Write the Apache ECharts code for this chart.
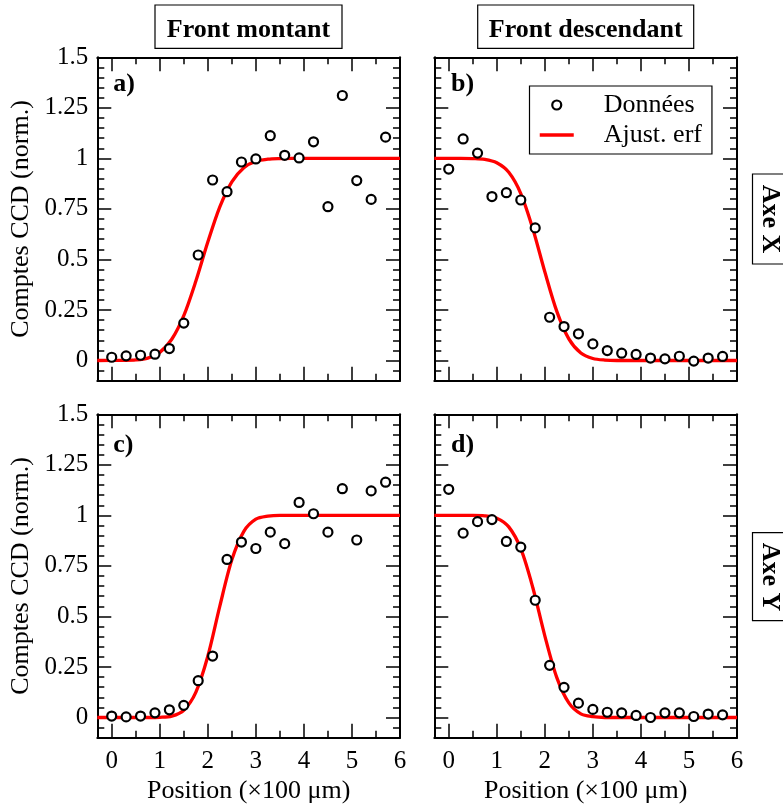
<!DOCTYPE html>
<html>
<head>
<meta charset="utf-8">
<script src="https://cdn.jsdelivr.net/npm/echarts@6/dist/echarts.min.js"></script>
<style>
  html, body { margin: 0; padding: 0; background: #fff; }
  #chart { width: 783px; height: 810px; }
</style>
</head>
<body>
<div id="chart"></div>
<script>
// ---------- DATA ----------
const positions = [0, 0.3, 0.6, 0.9, 1.2, 1.5, 1.8, 2.1, 2.4, 2.7, 3.0, 3.3, 3.6, 3.9, 4.2, 4.5, 4.8, 5.1, 5.4, 5.7];

const dataA = [0.016, 0.023, 0.026, 0.031, 0.059, 0.185, 0.522, 0.893, 0.835, 0.982, 0.997, 1.112, 1.015, 1.002, 1.082, 0.761, 1.311, 0.890, 0.797, 1.105];
const dataB = [0.947, 1.096, 1.026, 0.811, 0.830, 0.794, 0.656, 0.214, 0.168, 0.132, 0.082, 0.049, 0.036, 0.030, 0.012, 0.008, 0.021, -0.003, 0.012, 0.020];
const dataC = [0.007, 0.003, 0.007, 0.023, 0.038, 0.060, 0.182, 0.304, 0.782, 0.868, 0.836, 0.917, 0.860, 1.064, 1.008, 0.917, 1.132, 0.878, 1.121, 1.164];
const dataD = [1.129, 0.912, 0.969, 0.979, 0.871, 0.843, 0.580, 0.258, 0.149, 0.071, 0.040, 0.026, 0.023, 0.010, 0.000, 0.023, 0.023, 0.005, 0.017, 0.013];

// fitted erf curves, read at these positions
const fitPositions = [-0.3, 0.25, 0.5, 0.75, 1, 1.25, 1.5, 1.75, 2, 2.25, 2.5, 2.75, 3, 3.25, 3.5, 3.75, 4.5, 6];
const fitA = [0, 0.001, 0.003, 0.012, 0.040, 0.105, 0.222, 0.392, 0.586, 0.760, 0.884, 0.954, 0.986, 0.996, 0.999, 1, 1, 1];
const fitB = [1, 1, 0.999, 0.995, 0.978, 0.931, 0.826, 0.652, 0.439, 0.243, 0.107, 0.037, 0.010, 0.002, 0, 0, 0, 0];
const fitC = [0, 0, 0, 0, 0.001, 0.007, 0.036, 0.124, 0.303, 0.551, 0.780, 0.921, 0.981, 0.996, 1, 1, 1, 1];
const fitD = [1, 1, 1, 0.998, 0.986, 0.943, 0.835, 0.643, 0.404, 0.197, 0.072, 0.018, 0.004, 0, 0, 0, 0, 0];

// tick labels and tick positions
const xTickLabels = [0, 1, 2, 3, 4, 5, 6];
const xMinorTicks = [0.5, 1.5, 2.5, 3.5, 4.5, 5.5];
const yTickLabels = [0, 0.25, 0.5, 0.75, 1, 1.25, 1.5];
const yMinorTicks = [-0.05, 0.05, 0.1, 0.15, 0.2, 0.3, 0.35, 0.4, 0.45, 0.55, 0.6, 0.65, 0.7, 0.8, 0.85, 0.9, 0.95, 1.05, 1.1, 1.15, 1.2, 1.3, 1.35, 1.4, 1.45];

const panelLetters = ['a)', 'b)', 'c)', 'd)'];
const columnTitles = ['Front montant', 'Front descendant'];
const rowTitles = ['Axe X', 'Axe Y'];
const xTitle = 'Position (×100 μm)';
const yTitle = 'Comptes CCD (norm.)';
const seriesNames = ['Données', 'Ajust. erf'];

// ---------- LAYOUT ----------
const FONT = 'Liberation Serif';
const LABEL_SIZE = 25;
const X_MIN = -0.3, X_MAX = 6, Y_MIN = -0.1, Y_MAX = 1.5;
const panels = [
  { left: 97.3, top: 57.3, data: dataA, fit: fitA, xLab: false, yLab: true },
  { left: 434.3, top: 57.3, data: dataB, fit: fitB, xLab: false, yLab: false },
  { left: 97.3, top: 414.3, data: dataC, fit: fitC, xLab: true, yLab: true },
  { left: 434.3, top: 414.3, data: dataD, fit: fitD, xLab: true, yLab: false }
];
const PW = 302.7, PH = 323.4;

const grid = [], xAxis = [], yAxis = [], series = [];
const lineStyle = { color: '#000', width: 2 };
const tickStyle = { color: '#000', width: 1.5 };

function xAx(gi, pos, ticks, len, showLine, labels, name) {
  return {
    type: 'value', gridIndex: gi, position: pos, min: X_MIN, max: X_MAX,
    axisLine: { show: showLine, onZero: false, lineStyle: lineStyle },
    axisTick: { show: true, inside: true, length: len, customValues: ticks, lineStyle: tickStyle },
    axisLabel: labels ? { show: true, customValues: labels, margin: 11, color: '#000', fontFamily: FONT, fontSize: LABEL_SIZE } : { show: false },
    splitLine: { show: false },
    name: name || '', nameLocation: 'middle', nameGap: 40,
    nameTextStyle: { color: '#000', fontFamily: FONT, fontSize: 26 }
  };
}
function yAx(gi, pos, ticks, len, showLine, labels, name) {
  return {
    type: 'value', gridIndex: gi, position: pos, min: Y_MIN, max: Y_MAX,
    axisLine: { show: showLine, onZero: false, lineStyle: lineStyle },
    axisTick: { show: true, inside: true, length: len, customValues: ticks, lineStyle: tickStyle },
    axisLabel: labels ? { show: true, customValues: labels, margin: 9, color: '#000', fontFamily: FONT, fontSize: LABEL_SIZE } : { show: false },
    splitLine: { show: false },
    name: name || '', nameLocation: 'middle', nameGap: 63, nameRotate: 90,
    nameTextStyle: { color: '#000', fontFamily: FONT, fontSize: 26 }
  };
}

panels.forEach((p, gi) => {
  grid.push({ left: p.left, top: p.top, width: PW, height: PH, containLabel: false, outerBoundsMode: 'none' });
  const xi = xAxis.length, yi = yAxis.length;
  xAxis.push(xAx(gi, 'bottom', xTickLabels, 14, true, p.xLab ? xTickLabels : null, p.xLab ? xTitle : ''));
  xAxis.push(xAx(gi, 'bottom', xMinorTicks, 7, false, null));
  xAxis.push(xAx(gi, 'top', xTickLabels, 14, true, null));
  xAxis.push(xAx(gi, 'top', xMinorTicks, 7, false, null));
  yAxis.push(yAx(gi, 'left', yTickLabels, 14, true, p.yLab ? yTickLabels : null, p.yLab ? yTitle : ''));
  yAxis.push(yAx(gi, 'left', yMinorTicks, 7, false, null));
  yAxis.push(yAx(gi, 'right', yTickLabels, 14, true, null));
  yAxis.push(yAx(gi, 'right', yMinorTicks, 7, false, null));

  series.push({
    type: 'line', name: seriesNames[1], xAxisIndex: xi, yAxisIndex: yi,
    data: fitPositions.map((x, k) => [x, p.fit[k]]),
    smooth: 0.3, symbol: 'none', showSymbol: false,
    lineStyle: { color: '#ff0000', width: 3.3 }, itemStyle: { color: '#ff0000' },
    z: 2, animation: false
  });
  series.push({
    type: 'scatter', name: seriesNames[0], xAxisIndex: xi, yAxisIndex: yi,
    data: positions.map((x, k) => [x, p.data[k]]),
    symbol: 'circle', symbolSize: 9,
    itemStyle: { color: '#fff', borderColor: '#000', borderWidth: 2.2, opacity: 1 },
    z: 3, animation: false
  });
});

// ---------- DECORATIONS ----------
const graphic = [];
function boxText(x, y, w, h, tx, ty, text, rot) {
  graphic.push({ type: 'rect', shape: { x: x, y: y, width: w, height: h }, style: { fill: '#fff', stroke: '#000', lineWidth: 1.2 }, z: 10 });
  graphic.push({ type: 'text', x: tx, y: ty, rotation: rot || 0, z: 11,
    style: { text: text, x: 0, y: 0, fill: '#000', font: 'bold 26px "' + FONT + '"', align: 'center', verticalAlign: 'middle', textAlign: 'center', textVerticalAlign: 'middle' } });
}
boxText(155, 5, 187, 43.3, 248.5, 30.5, columnTitles[0]);
boxText(477.7, 5, 216, 43.3, 585.7, 30.5, columnTitles[1]);
boxText(752.5, 174, 60, 90, 770, 219, rowTitles[0], -Math.PI / 2);
boxText(752.5, 532.7, 60, 88, 770, 577, rowTitles[1], -Math.PI / 2);

const letterPos = [[113.3, 84.5], [451, 84.5], [113.3, 445.5], [451, 445.5]];
panelLetters.forEach((t, i) => {
  graphic.push({ type: 'text', x: letterPos[i][0], y: letterPos[i][1], z: 11,
    style: { text: t, x: 0, y: 0, fill: '#000', font: 'bold 26px "' + FONT + '"', align: 'left', verticalAlign: 'middle', textAlign: 'left', textVerticalAlign: 'middle' } });
});

const chart = echarts.init(document.getElementById('chart'), null, { renderer: 'canvas' });
chart.setOption({
  backgroundColor: '#fff',
  animation: false,
  grid: grid, xAxis: xAxis, yAxis: yAxis, series: series,
  legend: {
    orient: 'vertical', left: 529.5, top: 86,
    backgroundColor: '#fff', borderColor: '#000', borderWidth: 1.2, borderRadius: 0,
    padding: [6, 10, 6, 8.5],
    itemWidth: 34, itemHeight: 9, itemGap: 4,
    selectedMode: false,
    textStyle: { color: '#000', fontFamily: FONT, fontSize: 26, lineHeight: 26, padding: [0, 0, 0, 25] },
    data: [
      { name: seriesNames[0], icon: 'circle', itemStyle: { color: '#fff', borderColor: '#000', borderWidth: 2.2 } },
      { name: seriesNames[1], itemStyle: { opacity: 0 }, lineStyle: { color: '#ff0000', width: 3.5 } }
    ]
  },
  graphic: graphic
});
</script>
</body>
</html>
